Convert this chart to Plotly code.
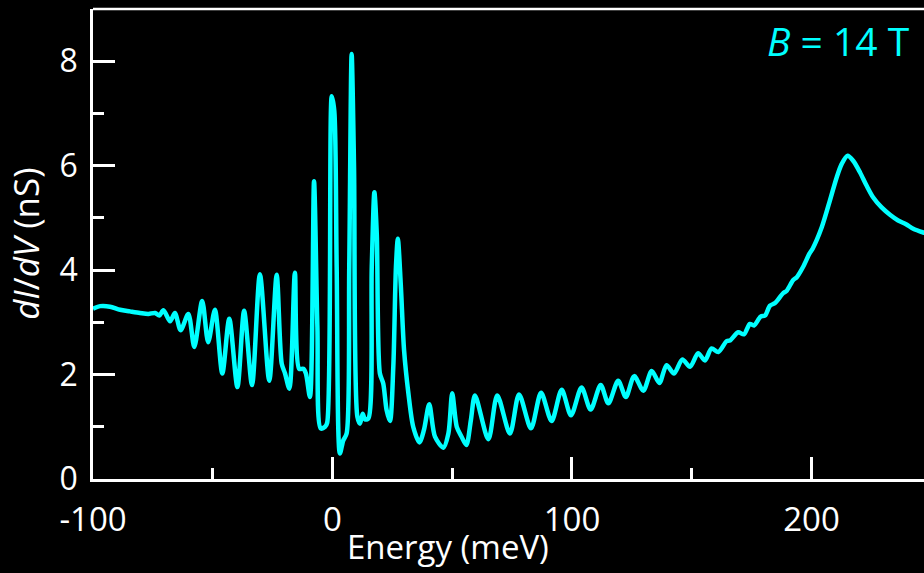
import plotly.graph_objects as go

# Energy (meV) and differential conductance (nS)
energy = [
    -100.0, -97.0, -92.9, -88.7, -84.6, -80.4, -76.9, -74.1, -72.3, -70.6,
    -67.8, -65.8, -63.4, -60.2, -57.7, -54.4, -51.9, -49.1, -46.0, -43.1,
    -39.7, -36.9, -33.6, -30.3, -26.4, -23.3, -21.2, -19.8, -18.0, -15.7,
    -13.9, -12.2, -11.1, -9.4, -7.7, -6.3, -4.9, -3.1, -2.2, -0.3,
    0.75, 1.75, 3.1, 4.5, 5.9, 7.0, 8.0, 9.0, 10.4, 11.5,
    12.6, 13.6, 15.0, 16.4, 17.5, 18.5, 19.8, 21.2, 22.6, 24.0,
    25.4, 26.5, 27.3, 28.5, 29.9, 31.7, 33.7, 36.3, 38.2, 40.4,
    42.8, 46.3, 48.4, 50.0, 51.9, 53.9, 55.9, 57.8, 59.5, 65.1,
    68.8, 74.1, 77.9, 82.9, 87.1, 91.5, 95.7, 99.6, 104.0, 107.8,
    112.0, 115.2, 119.3, 122.5, 126.0, 129.8, 133.3, 136.5, 139.5, 142.6,
    146.1, 149.3, 152.7, 155.5, 158.3, 161.1, 164.6, 166.0, 169.4, 171.8,
    174.3, 176.0, 178.8, 180.6, 182.7, 184.8, 188.2, 189.6, 192.4, 193.8,
    196.6, 199.1, 200.5, 204.3, 207.7, 210.5, 212.6, 215.1, 217.5, 220.3,
    223.0, 225.8, 229.3, 232.8, 236.2, 239.5, 242.5, 246.7, 247.5,
]
conductance = [
    3.26, 3.31, 3.30, 3.24, 3.21, 3.18, 3.16, 3.18, 3.13, 3.23,
    3.02, 3.18, 2.85, 3.16, 2.53, 3.41, 2.62, 3.24, 2.02, 3.07,
    1.76, 3.22, 1.80, 3.92, 1.88, 3.91, 2.21, 2.02, 1.73, 3.95,
    2.11, 2.11, 2.02, 1.57, 5.70, 2.91, 0.97, 1.00, 1.08, 7.33,
    7.05, 4.06, 0.49, 0.74, 0.87, 4.06, 8.14, 5.97, 1.19, 1.06,
    1.25, 1.14, 1.16, 4.06, 5.49, 4.69, 2.02, 1.83, 1.32, 1.11,
    2.15, 4.06, 4.60, 3.74, 2.46, 1.64, 1.00, 0.70, 0.94, 1.43,
    0.81, 0.60, 0.87, 1.64, 1.00, 0.81, 0.65, 1.13, 1.60, 0.76,
    1.60, 0.87, 1.62, 0.97, 1.65, 1.11, 1.71, 1.22, 1.75, 1.33,
    1.80, 1.45, 1.88, 1.57, 1.97, 1.69, 2.07, 1.84, 2.18, 2.02,
    2.29, 2.15, 2.41, 2.27, 2.50, 2.43, 2.64, 2.65, 2.81, 2.77,
    2.97, 2.94, 3.11, 3.13, 3.32, 3.37, 3.56, 3.60, 3.81, 3.86,
    4.07, 4.31, 4.41, 4.82, 5.33, 5.77, 6.03, 6.19, 6.09, 5.87,
    5.62, 5.39, 5.20, 5.06, 4.95, 4.88, 4.79, 4.72, 4.71,
]

x_ticks = [-100, 0, 100, 200]
y_ticks = [0, 2, 4, 6, 8]

CYAN = "#00FFFF"
FONT = "Open Sans"

fig = go.Figure()
fig.add_trace(go.Scatter(
    x=energy, y=conductance, mode="lines",
    line=dict(color=CYAN, width=4.5, shape="spline", smoothing=0.8),
    hoverinfo="skip", showlegend=False,
))

axis_common = dict(
    showline=True, linecolor="white", linewidth=2.5,
    ticks="inside", ticklen=22, tickwidth=2.5, tickcolor="white",
    showgrid=False, zeroline=False,
)

fig.update_xaxes(
    range=[-100, 247], tickvals=x_ticks, ticktext=[str(v) for v in x_ticks],
    minor=dict(ticks="inside", ticklen=11, tickwidth=2.5, tickcolor="white", dtick=50, tick0=0, showgrid=False),
    tickfont=dict(family=FONT, size=33, color="white"),
    ticklabelstandoff=10,
    **axis_common,
)
fig.update_yaxes(
    range=[0, 9], tickvals=y_ticks, ticktext=[str(v) for v in y_ticks],
    minor=dict(ticks="inside", ticklen=11, tickwidth=2.5, tickcolor="white", dtick=1, tick0=0, showgrid=False),
    tickfont=dict(family=FONT, size=32, color="white"),
    ticklabelstandoff=6,
    **axis_common,
)

fig.update_layout(
    width=924, height=573,
    margin=dict(l=93, r=0, t=9, b=94),
    paper_bgcolor="black", plot_bgcolor="black",
    shapes=[dict(type="line", xref="paper", yref="paper", x0=0, x1=1, y0=1, y1=1,
                 line=dict(color="white", width=2.5))],
    annotations=[
        dict(text="Energy (meV)", xref="paper", yref="paper", x=0.427, y=0.0, yshift=-92,
             xanchor="center", yanchor="bottom", showarrow=False,
             font=dict(family=FONT, size=33, color="white")),
        dict(text="<i>dI</i>/<i>dV</i> (nS)", xref="paper", yref="paper", x=-0.082, y=0.5,
             xanchor="center", yanchor="middle", textangle=-90, showarrow=False,
             font=dict(family=FONT, size=35, color="white")),
        dict(text="<i>B</i> = 14 T", xref="paper", yref="paper", x=0.986, y=(479 - 41) / 470,
             xanchor="right", yanchor="middle", showarrow=False,
             font=dict(family=FONT, size=39, color=CYAN)),
    ],
)

fig.write_html("out.html")
